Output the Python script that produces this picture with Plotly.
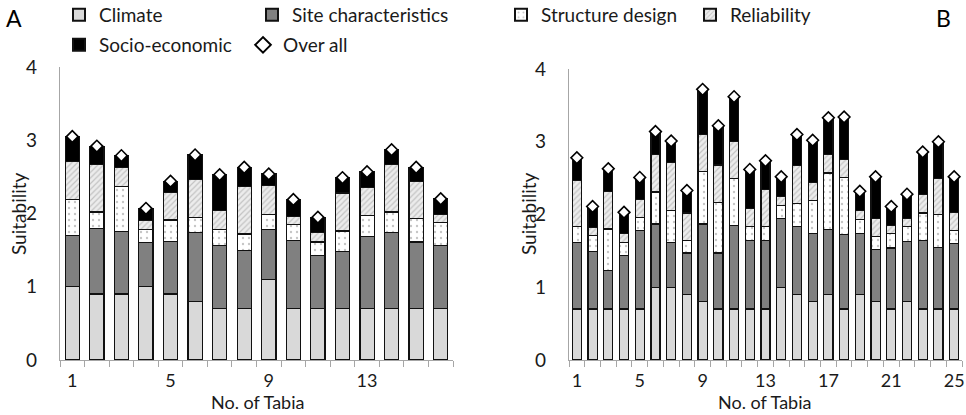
import plotly.graph_objects as go

# ---------------- data ----------------
tabia_a = list(range(1, 17))
tabia_b = list(range(1, 26))

climate_a = [1.0, 0.9, 0.9, 1.0, 0.9, 0.8, 0.7, 0.7, 1.1, 0.7, 0.7, 0.7, 0.7, 0.7, 0.7, 0.7]
site_a = [0.70, 0.90, 0.85, 0.60, 0.72, 0.94, 0.86, 0.80, 0.68, 0.93, 0.73, 0.78, 0.99, 1.04, 0.91, 0.86]
structure_a = [0.49, 0.22, 0.62, 0.18, 0.29, 0.21, 0.22, 0.22, 0.21, 0.22, 0.18, 0.28, 0.28, 0.28, 0.32, 0.32]
reliability_a = [0.52, 0.65, 0.26, 0.12, 0.38, 0.51, 0.26, 0.65, 0.39, 0.11, 0.13, 0.52, 0.39, 0.65, 0.51, 0.11]
socio_a = [0.34, 0.25, 0.16, 0.17, 0.15, 0.34, 0.49, 0.26, 0.16, 0.23, 0.21, 0.21, 0.21, 0.20, 0.19, 0.21]
overall_a = [3.05, 2.92, 2.79, 2.07, 2.44, 2.80, 2.53, 2.63, 2.54, 2.19, 1.95, 2.49, 2.57, 2.87, 2.63, 2.20]

climate_b = [0.7, 0.7, 0.7, 0.7, 0.7, 1.0, 1.0, 0.9, 0.8, 0.7, 0.7, 0.7, 0.7,
             1.0, 0.9, 0.8, 0.9, 0.7, 0.9, 0.8, 0.7, 0.8, 0.7, 0.7, 0.7]
site_b = [0.91, 0.79, 0.53, 0.74, 1.08, 0.87, 0.61, 0.57, 1.07, 0.77, 1.15, 0.94, 0.94,
          0.94, 0.94, 0.94, 0.89, 1.03, 0.84, 0.72, 0.84, 0.83, 0.94, 0.85, 0.90]
structure_b = [0.23, 0.22, 0.57, 0.18, 0.18, 0.44, 0.44, 0.17, 0.72, 0.69, 0.64, 0.20, 0.20,
               0.18, 0.31, 0.45, 0.78, 0.78, 0.19, 0.18, 0.20, 0.20, 0.38, 0.45, 0.18]
reliability_b = [0.63, 0.11, 0.52, 0.12, 0.25, 0.52, 0.66, 0.38, 0.51, 0.52, 0.51, 0.24, 0.50,
                 0.13, 0.52, 0.25, 0.26, 0.25, 0.12, 0.24, 0.11, 0.12, 0.26, 0.50, 0.25]
socio_b = [0.31, 0.29, 0.31, 0.29, 0.30, 0.31, 0.30, 0.31, 0.62, 0.54, 0.62, 0.54, 0.40,
           0.27, 0.43, 0.58, 0.50, 0.58, 0.27, 0.58, 0.26, 0.33, 0.58, 0.50, 0.49]
overall_b = [2.78, 2.11, 2.63, 2.03, 2.51, 3.14, 3.01, 2.33, 3.72, 3.22, 3.62, 2.62, 2.74,
             2.52, 3.10, 3.02, 3.33, 3.34, 2.32, 2.52, 2.11, 2.28, 2.86, 3.00, 2.52]

series_names = ["Climate", "Site characteristics", "Structure design", "Reliability", "Socio-economic"]
overall_name = "Over all"
tick_labels_a = [1, 5, 9, 13]
tick_labels_b = [1, 5, 9, 13, 17, 21, 25]
y_ticks = [0, 1, 2, 3, 4]

# ---------------- styles ----------------
FONT = "Lato, 'Open Sans', sans-serif"
TXT = "#1a1a1a"
AXC = "#a6a6a6"
W, H = 966, 415

styles = [
    dict(color="#d9d9d9"),
    dict(color="#808080"),
    dict(color="white", pattern=dict(shape=".", fgcolor="#8c8c8c", bgcolor="white",
                                     size=6, solidity=0.12)),
    dict(color="#e4e4e4", pattern=dict(shape="/", fgcolor="#9a9a9a", bgcolor="#ececec",
                                       size=4, solidity=0.3)),
    dict(color="black"),
]
legend_pos = {  # (swatch centre x, centre y) in pixels
    "Climate": (79, 15),
    "Site characteristics": (272, 15),
    "Structure design": (521, 15),
    "Reliability": (710, 15),
    "Socio-economic": (79, 45),
    "Over all": (263, 45),
}
legend_ids = ["legend", "legend2", "legend3", "legend4", "legend5", "legend6"]

fig = go.Figure()

panels = [
    ("x", "y", tabia_a, [climate_a, site_a, structure_a, reliability_a, socio_a], overall_a, True),
    ("x2", "y2", tabia_b, [climate_b, site_b, structure_b, reliability_b, socio_b], overall_b, False),
]
for xa, ya, xs, comps, tot, show in panels:
    for i, (name, vals) in enumerate(zip(series_names, comps)):
        fig.add_trace(go.Bar(
            x=xs, y=vals, name=name, xaxis=xa, yaxis=ya, width=0.58,
            marker=dict(**styles[i], line=dict(color="#111111", width=1.2)),
            showlegend=show, legend=legend_ids[i],
        ))
    fig.add_trace(go.Scatter(
        x=xs, y=tot, name=overall_name, mode="markers", xaxis=xa, yaxis=ya,
        marker=dict(symbol="diamond", size=9, color="white",
                    line=dict(color="black", width=1.6)),
        showlegend=show, legend=legend_ids[5],
    ))

def px2x(px):
    return px / W

def px2y(py):
    return 1 - py / H

xa_dom = (60, 453)
xb_dom = (569, 962)
y_dom_a = (360, 67)
y_dom_b = (360, 69)

common_x = dict(
    showline=True, linecolor=AXC, linewidth=1.3, showgrid=False, zeroline=False,
    ticks="", tickfont=dict(family=FONT, size=18, color=TXT),
    minor=dict(tick0=0.5, dtick=1, ticks="outside", ticklen=6, tickcolor=AXC, tickwidth=1.3),
    ticklabelstandoff=4,
)
common_y = dict(
    showline=True, linecolor=AXC, linewidth=1.3, showgrid=False, zeroline=False,
    ticks="", range=[0, 4], tickvals=y_ticks,
    tickfont=dict(family=FONT, size=19, color=TXT), ticklabelstandoff=18,
)

layout_legends = {}
for lid, name in zip(legend_ids, list(series_names) + [overall_name]):
    cx, cy = legend_pos[name]
    layout_legends[lid] = dict(
        x=px2x(cx - 20), y=px2y(cy), xanchor="left", yanchor="middle",
        font=dict(family=FONT, size=19, color=TXT), bgcolor="rgba(0,0,0,0)",
        borderwidth=0, itemsizing="constant",
    )

fig.update_layout(
    width=W, height=H, margin=dict(l=0, r=0, t=0, b=0, autoexpand=False),
    paper_bgcolor="white", plot_bgcolor="white", barmode="stack", bargap=0.42,
    font=dict(family=FONT, color=TXT),
    xaxis=dict(domain=[px2x(xa_dom[0]), px2x(xa_dom[1])], range=[0.5, 16.5],
               tickvals=tick_labels_a, anchor="y", **common_x),
    yaxis=dict(domain=[px2y(y_dom_a[0]), px2y(y_dom_a[1])], anchor="x", **common_y),
    xaxis2=dict(domain=[px2x(xb_dom[0]), px2x(xb_dom[1])], range=[0.5, 25.5],
                tickvals=tick_labels_b, anchor="y2", **common_x),
    yaxis2=dict(domain=[px2y(y_dom_b[0]), px2y(y_dom_b[1])], anchor="x2", **common_y),
    **layout_legends,
)

annots = [
    dict(text="A", x=px2x(14), y=px2y(18), size=23),
    dict(text="B", x=px2x(943), y=px2y(18), size=23),
]
for a in annots:
    fig.add_annotation(text=a["text"], x=a["x"], y=a["y"], xref="paper", yref="paper",
                       showarrow=False, xanchor="center", yanchor="middle",
                       font=dict(family=FONT, size=a["size"], color="black"))

titles = [
    ("Suitability", 18, 214, -90, 19),
    ("Suitability", 528, 214, -90, 19),
    ("No. of Tabia", 257, 402, 0, 18),
    ("No. of Tabia", 764, 402, 0, 18),
]
for t, x, y, ang, sz in titles:
    fig.add_annotation(text=t, x=px2x(x), y=px2y(y), xref="paper", yref="paper",
                       showarrow=False, xanchor="center", yanchor="middle", textangle=ang,
                       font=dict(family=FONT, size=sz, color=TXT))

fig.write_html("out.html")
